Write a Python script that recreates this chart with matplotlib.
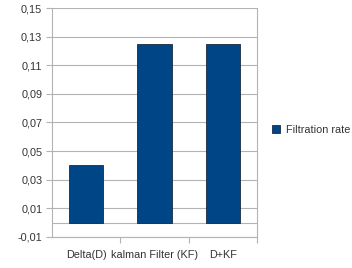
import matplotlib
matplotlib.use("Agg")
import matplotlib.pyplot as plt
from matplotlib.ticker import FixedLocator, FuncFormatter

# данные
categories = ["Delta(D)", "kalman Filter (KF)", "D+KF"]
filtration_rate = [0.04, 0.125, 0.125]
y_ticks = [-0.01, 0.01, 0.03, 0.05, 0.07, 0.09, 0.11, 0.13, 0.15]

BAR = "#004586"
GRID = "#b3b3b3"
TEXT = "#333333"
FS = 7.8

plt.rcParams["font.family"] = ["Liberation Sans", "DejaVu Sans"]
plt.rcParams["font.size"] = FS

fig = plt.figure(figsize=(3.52, 2.68), dpi=100)
ax = fig.add_axes([52 / 352, 1 - 237 / 268, 205 / 352, 229 / 268])

x = list(range(len(categories)))
ax.bar(x, filtration_rate, width=0.5, color=BAR, edgecolor="#1a2a40",
       linewidth=0.6, label="Filtration rate", zorder=3)

ax.set_xlim(-0.5, len(categories) - 0.5)
ax.set_ylim(-0.01, 0.15)
ax.yaxis.set_major_locator(FixedLocator(y_ticks))
ax.yaxis.set_major_formatter(FuncFormatter(lambda v, _: f"{v:.2f}".replace(".", ",")))
ax.grid(axis="y", color=GRID, linewidth=0.8, zorder=0)
ax.axhline(0, color=GRID, linewidth=0.8, zorder=1)

# подписи категорий по центрам, засечки на границах
ax.set_xticks(x)
ax.set_xticklabels(categories)
ax.set_xticks([0.5, 1.5, 2.5], minor=True)
ax.tick_params(axis="x", which="major", length=0, pad=9, colors=TEXT)
ax.tick_params(axis="x", which="minor", length=4, color=GRID, width=0.8)
ax.tick_params(axis="y", length=4, width=0.8, pad=3, colors=TEXT)
ax.tick_params(axis="y", color=GRID)

for side in ["left", "bottom", "right"]:
    ax.spines[side].set_color(GRID)
    ax.spines[side].set_linewidth(0.8)
ax.spines["top"].set_visible(False)

fig.legend(loc="center left", bbox_to_anchor=(262 / 352, 1 - 130 / 268),
           frameon=False, handlelength=0.8, handleheight=0.8,
           handletextpad=0.5, fontsize=FS, labelcolor=TEXT)

fig.savefig("out.png", dpi=100, facecolor="white")
